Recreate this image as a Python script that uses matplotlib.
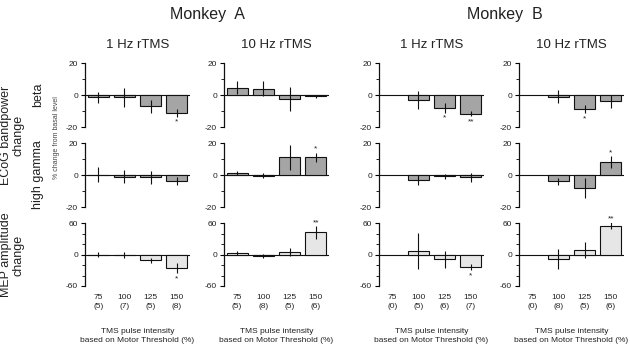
import numpy as np
import matplotlib
matplotlib.use("Agg")
import matplotlib.pyplot as plt
from matplotlib.ticker import MultipleLocator

plt.rcParams['font.family'] = ['Liberation Sans', 'DejaVu Sans']

intensities = ["75", "100", "125", "150"]
n_A1 = ["5", "7", "5", "8"]
n_A10 = ["5", "8", "5", "6"]
n_B1 = ["0", "5", "6", "7"]
n_B10 = ["0", "8", "5", "6"]

nan = np.nan
# Monkey A, 1 Hz
A1_beta = [-1.5, -1.5, -7, -11];      A1_beta_err = [3.4, 6, 4, 2.5];   A1_beta_sig = ["", "", "", "*"]
A1_gamma = [0.3, -1, -1.5, -3.6];     A1_gamma_err = [4.5, 4, 4, 2.5];  A1_gamma_sig = ["", "", "", ""]
A1_mep = [0, -1, -11, -26];           A1_mep_err = [4, 5, 5, 10];       A1_mep_sig = ["", "", "", "*"]
# Monkey A, 10 Hz
A10_beta = [4.5, 4, -2.7, -0.7];      A10_beta_err = [4, 4.5, 7.5, 1];  A10_beta_sig = ["", "", "", ""]
A10_gamma = [1.5, -0.5, 11, 11];      A10_gamma_err = [1.3, 1.5, 8, 3]; A10_gamma_sig = ["", "", "", "*"]
A10_mep = [2.5, -3, 5, 42];           A10_mep_err = [4, 4, 8, 12];      A10_mep_sig = ["", "", "", "**"]
# Monkey B, 1 Hz
B1_beta = [nan, -3.2, -8, -11.8];     B1_beta_err = [0, 5.4, 3, 1.5];   B1_beta_sig = ["", "", "*", "**"]
B1_gamma = [nan, -3, -0.8, -1.5];     B1_gamma_err = [0, 3, 1.5, 3];    B1_gamma_sig = ["", "", "", ""]
B1_mep = [nan, 6.5, -9, -24];         B1_mep_err = [0, 34, 16, 6];      B1_mep_sig = ["", "", "", "*"]
# Monkey B, 10 Hz
B10_beta = [nan, -1, -9, -4];         B10_beta_err = [0, 4, 2.5, 4];    B10_beta_sig = ["", "", "*", ""]
B10_gamma = [nan, -4, -8, 8];         B10_gamma_err = [0, 2.3, 6.3, 3.7]; B10_gamma_sig = ["", "", "", "*"]
B10_mep = [nan, -7.7, 8.4, 55];       B10_mep_err = [0, 19, 16, 6];     B10_mep_sig = ["", "", "", "**"]

panels = [
    (A1_beta, A1_beta_err, A1_beta_sig, A1_gamma, A1_gamma_err, A1_gamma_sig, A1_mep, A1_mep_err, A1_mep_sig, n_A1),
    (A10_beta, A10_beta_err, A10_beta_sig, A10_gamma, A10_gamma_err, A10_gamma_sig, A10_mep, A10_mep_err, A10_mep_sig, n_A10),
    (B1_beta, B1_beta_err, B1_beta_sig, B1_gamma, B1_gamma_err, B1_gamma_sig, B1_mep, B1_mep_err, B1_mep_sig, n_B1),
    (B10_beta, B10_beta_err, B10_beta_sig, B10_gamma, B10_gamma_err, B10_gamma_sig, B10_mep, B10_mep_err, B10_mep_sig, n_B10),
]
col_titles = ["1 Hz rTMS", "10 Hz rTMS", "1 Hz rTMS", "10 Hz rTMS"]

W, H = 630, 363
fig = plt.figure(figsize=(W / 100, H / 100), dpi=100)

col_x = [85, 224, 379, 519]
col_w = 105
rows = [(63, 127), (143, 207), (223, 286)]
TXT = '#222222'

def px_axes(x0, y0, y1):
    return fig.add_axes([x0 / W, 1 - y1 / H, col_w / W, (y1 - y0) / H])

for c, p in enumerate(panels):
    series = [(p[0], p[1], p[2]), (p[3], p[4], p[5]), (p[6], p[7], p[8])]
    for r, (vals, errs, sigs) in enumerate(series):
        ax = px_axes(col_x[c], *rows[r])
        lim = 60 if r == 2 else 20
        color = '#e6e6e6' if r == 2 else '#a5a5a5'
        x = np.arange(len(vals))
        v = np.array(vals, dtype=float)
        e = np.array(errs, dtype=float)
        ok = ~np.isnan(v)
        ax.bar(x[ok], v[ok], width=0.8, color=color, edgecolor='#111111', linewidth=0.8, zorder=2)
        ax.errorbar(x[ok], v[ok], yerr=e[ok], fmt='none', ecolor='#111111', elinewidth=0.8, capsize=0, zorder=3)
        ax.axhline(0, color='#111111', lw=0.8, zorder=1)
        off = lim * 0.17
        for i in range(len(vals)):
            if sigs[i] and ok[i]:
                y = v[i] + e[i] + off * 0.7 if v[i] >= 0 else v[i] - e[i] - off
                ax.text(x[i], y, sigs[i], ha='center', va='center', fontsize=6, color=TXT, clip_on=False)
        ax.set_xlim(-0.5, 3.5)
        ax.set_ylim(-lim, lim)
        ax.set_yticks([-lim, 0, lim])
        ax.set_yticklabels([str(-lim), "0", str(lim)])
        ax.yaxis.set_minor_locator(MultipleLocator(lim / 2 if r < 2 else 20))
        for s in ['top', 'right', 'bottom']:
            ax.spines[s].set_visible(False)
        ax.spines['left'].set_linewidth(0.9)
        ax.spines['left'].set_color('#111111')
        ax.tick_params(axis='y', which='major', direction='out', length=3, width=0.8, pad=2,
                       labelsize=6, labelcolor=TXT)
        ax.tick_params(axis='y', which='minor', direction='out', length=2, width=0.6)
        ax.patch.set_alpha(0)
        if r == 2:
            ax.set_xticks(x)
            ax.set_xticklabels([f"{a}\n({n})" for a, n in zip(intensities, p[9])],
                               fontsize=6, color=TXT, linespacing=1.3)
            ax.tick_params(axis='x', length=0, pad=6)
        else:
            ax.set_xticks([])
    cx = (col_x[c] + col_w / 2) / W
    fig.text(cx, 1 - 45 / H, col_titles[c], ha='center', va='center', fontsize=9.5, color=TXT)
    fig.text(cx, 1 - 336 / H, "TMS pulse intensity\nbased on Motor Threshold (%)",
             ha='center', va='center', fontsize=6, color=TXT, linespacing=1.5)

fig.text(207 / W, 1 - 15 / H, "Monkey  A", ha='center', va='center', fontsize=11.5, color=TXT)
fig.text(505 / W, 1 - 15 / H, "Monkey  B", ha='center', va='center', fontsize=11.5, color=TXT)

fig.text(12 / W, 1 - 135 / H, "ECoG bandpower\nchange", rotation=90, ha='center', va='center',
         fontsize=9, color=TXT, linespacing=1.1)
fig.text(12 / W, 1 - 255 / H, "MEP amplitude\nchange", rotation=90, ha='center', va='center',
         fontsize=9, color=TXT, linespacing=1.1)
fig.text(38 / W, 1 - 95 / H, "beta", rotation=90, ha='center', va='center', fontsize=9, color=TXT)
fig.text(38 / W, 1 - 175 / H, "high gamma", rotation=90, ha='center', va='center', fontsize=9, color=TXT)
fig.text(56 / W, 1 - 138 / H, "% change from basal level", rotation=90, ha='center', va='center',
         fontsize=5, color='#444444')

fig.savefig("out.png", dpi=100)
